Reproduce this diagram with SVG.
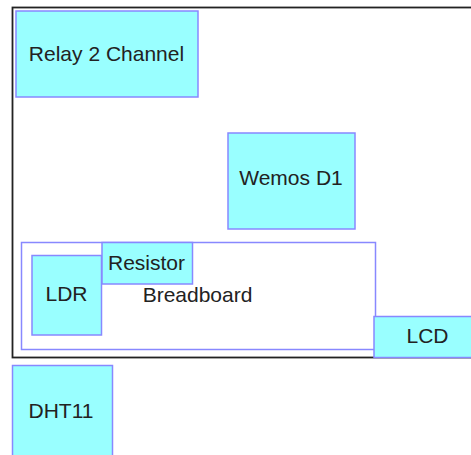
<svg xmlns="http://www.w3.org/2000/svg" width="471" height="455" viewBox="0 0 471 455">
  <style>
    .node { fill: #99ffff; stroke: #8888ff; stroke-width: 1.5; }
    .board { fill: #ffffff; stroke: #8888ff; stroke-width: 1.5; }
    .frame { fill: none; stroke: #222222; stroke-width: 1.8; }
    .lbl { font-family: "Liberation Sans", Arial, sans-serif; font-size: 21px; fill: #222222; text-anchor: middle; }
  </style>
  <rect x="0" y="0" width="471" height="455" fill="#ffffff"/>
  <g id="frame">
    <rect class="frame" x="12.5" y="7.5" width="470" height="350"/>
  </g>
  <g id="relay">
    <rect class="node" x="16" y="11" width="182" height="86"/>
    <text class="lbl" x="106.5" y="61">Relay 2 Channel</text>
  </g>
  <g id="wemos">
    <rect class="node" x="228" y="133" width="127" height="96"/>
    <text class="lbl" x="291" y="184.5">Wemos D1</text>
  </g>
  <g id="breadboard">
    <rect class="board" x="21.5" y="242.5" width="354" height="107"/>
    <text class="lbl" x="197.5" y="302">Breadboard</text>
  </g>
  <g id="ldr">
    <rect class="node" x="32" y="255.5" width="69.5" height="79.5"/>
    <text class="lbl" x="66.5" y="301">LDR</text>
  </g>
  <g id="resistor">
    <rect class="node" x="102" y="242.5" width="90.5" height="41.5"/>
    <text class="lbl" x="146.5" y="269.5">Resistor</text>
  </g>
  <g id="lcd">
    <rect class="node" x="374" y="316.5" width="107" height="41"/>
    <text class="lbl" x="427.5" y="343">LCD</text>
  </g>
  <g id="dht11">
    <rect class="node" x="12.5" y="365.5" width="100" height="100"/>
    <text class="lbl" x="61" y="417.5">DHT11</text>
  </g>
  <g id="connectors"/>
</svg>
